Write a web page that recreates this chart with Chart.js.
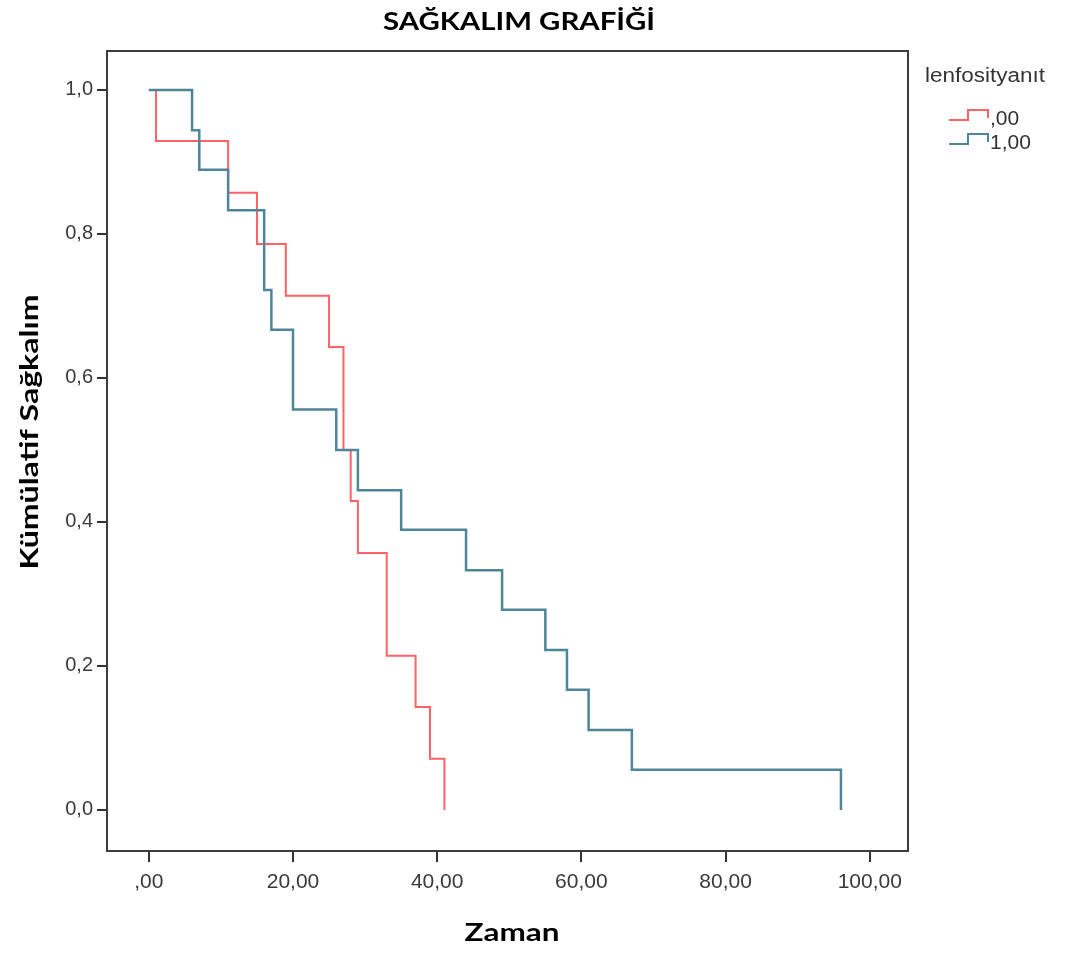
<!DOCTYPE html>
<html>
<head>
<meta charset="utf-8">
<script src="https://cdn.jsdelivr.net/npm/chart.js@4"></script>
<style>
  body { margin: 0; background: #fff; }
  #wrap { width: 1069px; height: 954px; }
</style>
</head>
<body>
<div id="wrap"><canvas id="km-chart" width="1069" height="954"></canvas></div>
<script>
// Kaplan-Meier steps (time, cumulative survival)
const groupLabels = [',00', '1,00'];
const timesGroup0 = [0, 1, 11, 15, 19, 25, 27, 28, 29, 33, 37, 39, 41];
const survivalGroup0 = [1.0, 0.929, 0.857, 0.786, 0.714, 0.643, 0.5, 0.429, 0.357, 0.214, 0.143, 0.071, 0.0];
const timesGroup1 = [0, 6, 7, 11, 16, 17, 20, 26, 29, 35, 44, 49, 55, 58, 61, 67, 96];
const survivalGroup1 = [1.0, 0.944, 0.889, 0.833, 0.722, 0.667, 0.556, 0.5, 0.444, 0.389, 0.333, 0.278, 0.222, 0.167, 0.111, 0.056, 0.0];

const xTicks = [0, 20, 40, 60, 80, 100];
const xTickLabels = [',00', '20,00', '40,00', '60,00', '80,00', '100,00'];
const yTicks = [0, 0.2, 0.4, 0.6, 0.8, 1.0];
const yTickLabels = ['0,0', '0,2', '0,4', '0,6', '0,8', '1,0'];

const chartTitle = 'SAĞKALIM GRAFİĞİ';
const xTitle = 'Zaman';
const yTitle = 'Kümülatif Sağkalım';
const legendTitle = 'lenfosityanıt';

const red = '#ff6266';
const blue = '#4d8599';

function toPoints(times, values) {
    return times.map((t, i) => ({ x: t, y: values[i] }));
}

// the source picture is a bit wider than the font, so stretch text to its width
function wideText(ctx, text, x, y, width) {
    const w = ctx.measureText(text).width;
    ctx.save();
    ctx.translate(x, y);
    ctx.scale(width / w, 1);
    ctx.fillText(text, 0, 0);
    ctx.restore();
}

// frame, titles and the step-shaped legend
const decorations = {
    id: 'decorations',
    afterDraw(chart) {
        const ctx = chart.ctx;
        const a = chart.chartArea;
        ctx.save();
        ctx.strokeStyle = '#3c3c3c';
        ctx.lineWidth = 2;
        ctx.strokeRect(a.left, a.top, a.right - a.left, a.bottom - a.top);

        ctx.fillStyle = '#000';
        ctx.textAlign = 'center';
        ctx.textBaseline = 'middle';
        ctx.font = 'bold 24px Lato';
        wideText(ctx, chartTitle, 519, 22, 272);
        wideText(ctx, xTitle, 512, 933, 95);

        ctx.save();
        ctx.translate(30, 432);
        ctx.rotate(-Math.PI / 2);
        wideText(ctx, yTitle, 0, 0, 275);
        ctx.restore();

        // legend
        ctx.fillStyle = '#333';
        ctx.textAlign = 'left';
        ctx.font = '20px "Liberation Sans"';
        wideText(ctx, legendTitle, 925, 76, 120);
        ctx.font = '21px "Liberation Sans"';
        const colors = [red, blue];
        const rows = [119, 143];
        colors.forEach((c, i) => {
            const y = rows[i];
            ctx.strokeStyle = c;
            ctx.lineWidth = 2;
            ctx.beginPath();
            ctx.moveTo(949, y + 1);
            ctx.lineTo(968, y + 1);
            ctx.lineTo(968, y - 9);
            ctx.lineTo(988, y - 9);
            ctx.lineTo(988, y - 1);
            ctx.stroke();
            ctx.fillText(groupLabels[i], 990, y);
        });
        ctx.restore();
    }
};

const ctx = document.getElementById('km-chart').getContext('2d');
const kmChart = new Chart(ctx, {
    type: 'line',
    data: {
        datasets: [
            {
                label: groupLabels[0],
                data: toPoints(timesGroup0, survivalGroup0),
                borderColor: red,
                borderWidth: 2,
                stepped: 'before',
                pointRadius: 0,
                fill: false,
                order: 1
            },
            {
                label: groupLabels[1],
                data: toPoints(timesGroup1, survivalGroup1),
                borderColor: blue,
                borderWidth: 2.5,
                stepped: 'before',
                pointRadius: 0,
                fill: false,
                order: 0
            }
        ]
    },
    options: {
        responsive: false,
        animation: false,
        devicePixelRatio: 1,
        layout: { padding: { left: 0, top: 51, right: 161, bottom: 0 } },
        plugins: {
            legend: { display: false },
            title: { display: false },
            tooltip: { enabled: false }
        },
        scales: {
            x: {
                type: 'linear',
                min: -5.8,
                max: 105.3,
                afterBuildTicks: s => { s.ticks = xTicks.map(v => ({ value: v })); },
                afterFit: s => { s.height = 103; },
                border: { display: false },
                grid: { drawOnChartArea: false, tickLength: 11, color: '#333', lineWidth: 2 },
                ticks: {
                    autoSkip: false,
                    maxRotation: 0,
                    padding: 8,
                    color: '#3a3a3a',
                    font: { family: 'Liberation Sans', size: 21 },
                    callback: v => xTickLabels[xTicks.indexOf(v)]
                }
            },
            y: {
                type: 'linear',
                min: -0.057,
                max: 1.054,
                afterBuildTicks: s => { s.ticks = yTicks.map(v => ({ value: v })); },
                afterFit: s => { s.width = 107; },
                border: { display: false },
                grid: { drawOnChartArea: false, tickLength: 10, color: '#333', lineWidth: 2 },
                ticks: {
                    padding: 4,
                    color: '#3a3a3a',
                    font: { family: 'Liberation Sans', size: 20 },
                    callback: v => yTickLabels[yTicks.indexOf(v)]
                }
            }
        }
    },
    plugins: [decorations]
});
</script>
</body>
</html>
